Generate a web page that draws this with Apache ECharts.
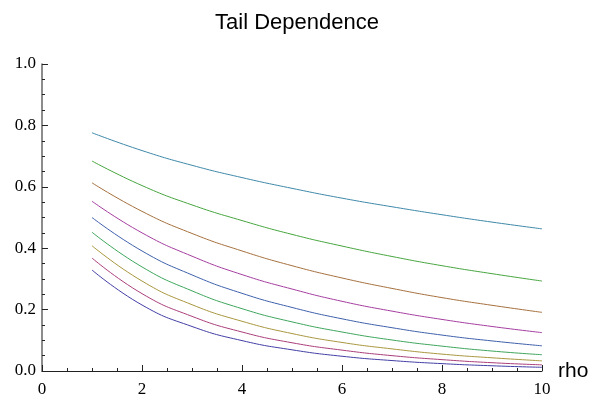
<!DOCTYPE html>
<html>
<head>
<meta charset="utf-8">
<script src="https://cdn.jsdelivr.net/npm/echarts@6/dist/echarts.min.js"></script>
<style>
  html, body { margin: 0; padding: 0; background: #fff; }
  #chart { width: 594px; height: 399px; }
</style>
</head>
<body>
<div id="chart"></div>
<script>
// x values (rho axis)
var rho = [1, 2, 3, 4, 5, 6, 7, 8, 9, 10];

// one curve per correlation level, bottom to top
var c01 = [0.329, 0.215, 0.145, 0.099, 0.069, 0.048, 0.034, 0.024, 0.017, 0.012];
var c02 = [0.368, 0.252, 0.178, 0.127, 0.092, 0.068, 0.050, 0.037, 0.027, 0.020];
var c03 = [0.408, 0.293, 0.216, 0.162, 0.122, 0.093, 0.072, 0.055, 0.043, 0.033];
var c04 = [0.452, 0.339, 0.261, 0.203, 0.160, 0.127, 0.101, 0.081, 0.065, 0.053];
var c05 = [0.500, 0.391, 0.313, 0.253, 0.207, 0.170, 0.141, 0.117, 0.098, 0.082];
var c06 = [0.553, 0.450, 0.374, 0.314, 0.267, 0.227, 0.195, 0.168, 0.145, 0.125];
var c07 = [0.613, 0.520, 0.448, 0.391, 0.343, 0.303, 0.269, 0.239, 0.214, 0.191];
var c08 = [0.684, 0.604, 0.541, 0.490, 0.445, 0.407, 0.373, 0.343, 0.317, 0.293];
var c09 = [0.776, 0.718, 0.670, 0.630, 0.595, 0.563, 0.535, 0.509, 0.485, 0.463];

var curves = [c01, c02, c03, c04, c05, c06, c07, c08, c09];
var colors = [
  "rgb(66,62,165)",
  "rgb(170,62,122)",
  "rgb(168,150,62)",
  "rgb(62,165,92)",
  "rgb(62,96,170)",
  "rgb(165,62,160)",
  "rgb(165,112,62)",
  "rgb(70,165,62)",
  "rgb(62,136,168)"
];

var myChart = echarts.init(document.getElementById("chart"));

var series = curves.map(function (c, i) {
  return {
    type: "line",
    data: rho.map(function (x, j) { return [x, c[j]]; }),
    smooth: 0.5,
    symbol: "none",
    lineStyle: { width: 1, color: colors[i] },
    animation: false
  };
});

myChart.setOption({
  animation: false,
  title: {
    text: "Tail Dependence",
    left: 292,
    textAlign: "center",
    top: 7,
    textStyle: {
      fontFamily: "Liberation Sans",
      fontWeight: "normal",
      fontSize: 22,
      color: "#000"
    }
  },
  grid: { left: 42, right: 52, top: 64, bottom: 28 },
  xAxis: {
    type: "value",
    min: 0,
    max: 10,
    interval: 2,
    name: "rho",
    nameLocation: "end",
    nameGap: 16,
    nameTextStyle: { fontFamily: "Liberation Sans", fontSize: 21, color: "#000" },
    axisLine: { lineStyle: { color: "#222", width: 1 } },
    axisTick: { inside: true, length: 6, lineStyle: { color: "#222" } },
    minorTick: { show: true, splitNumber: 4, length: 3, lineStyle: { color: "#222" } },
    splitLine: { show: false },
    axisLabel: { fontFamily: "Liberation Serif", fontSize: 17, color: "#000", margin: 10 }
  },
  yAxis: {
    type: "value",
    min: 0,
    max: 1,
    interval: 0.2,
    axisLine: { show: true, lineStyle: { color: "#666", width: 1.5 } },
    axisTick: { show: true, inside: true, length: 6, lineStyle: { color: "#222" } },
    minorTick: { show: true, splitNumber: 4, length: 3, lineStyle: { color: "#222" } },
    splitLine: { show: false },
    axisLabel: {
      fontFamily: "Liberation Serif",
      fontSize: 17,
      color: "#000",
      margin: 6,
      formatter: function (v) { return v.toFixed(1); }
    }
  },
  series: series
});
</script>
</body>
</html>
